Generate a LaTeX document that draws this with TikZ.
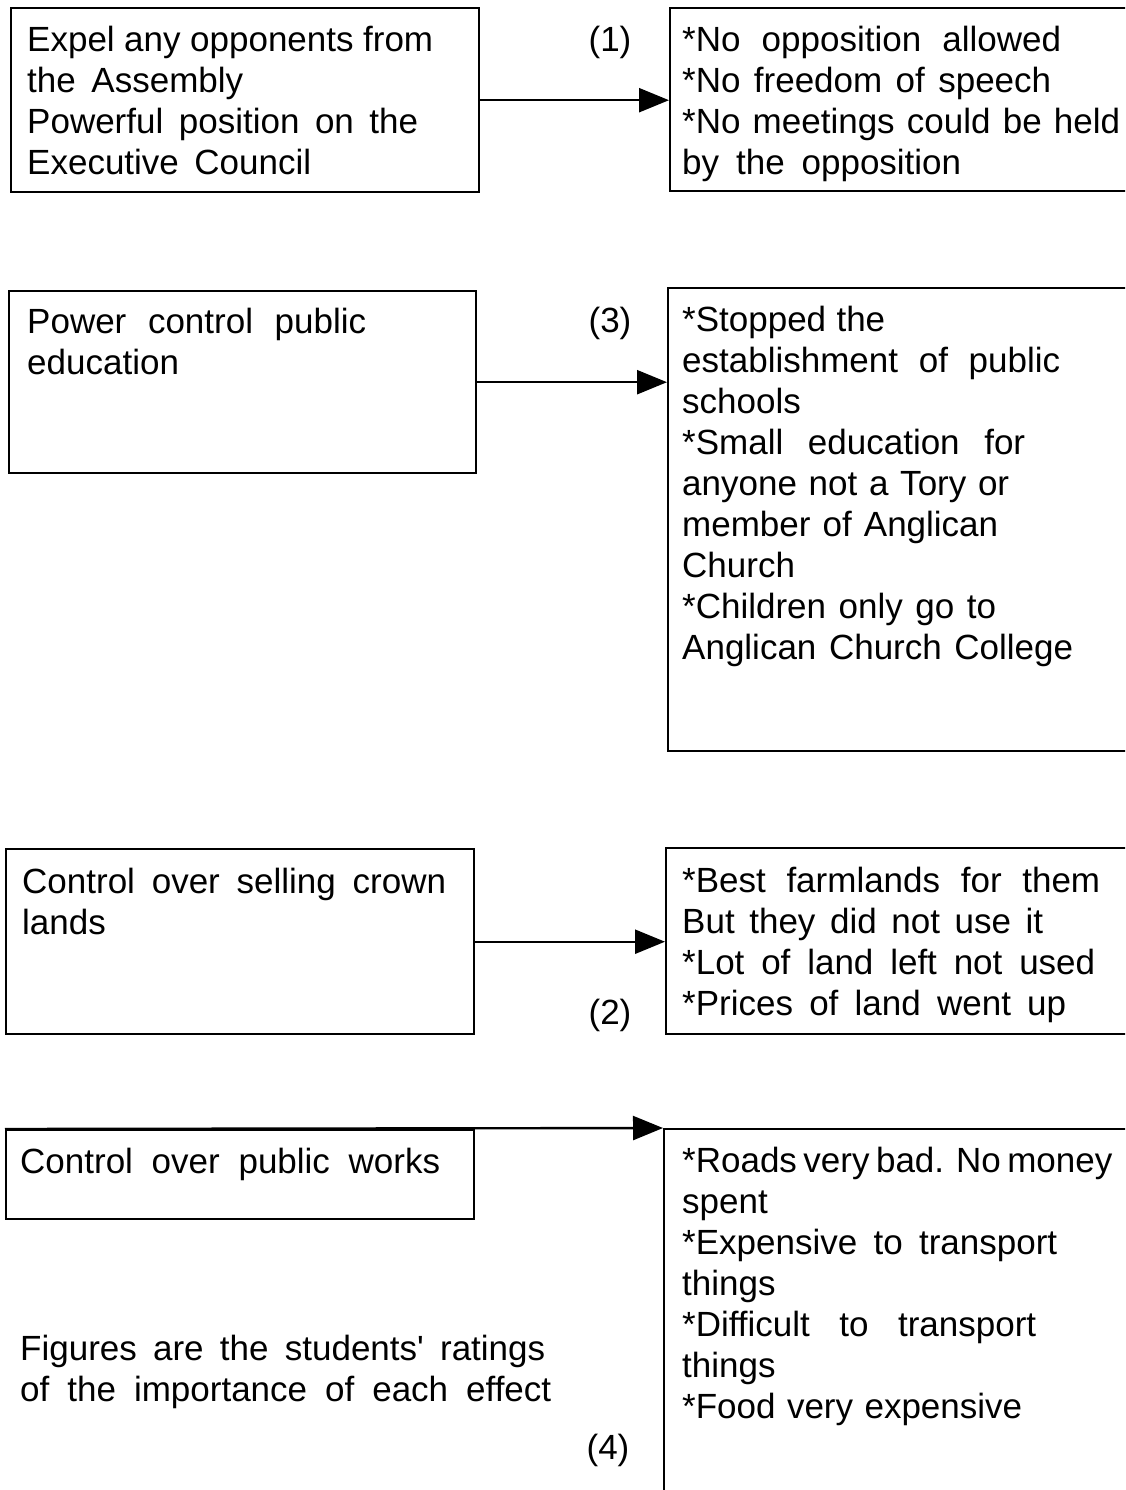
\documentclass[tikz,border=0pt]{standalone}
\usepackage{fontspec}
\setmainfont{Liberation Sans}
\usetikzlibrary{arrows.meta}
\newcommand\fitline[2]{\makebox[#1pt][s]{#2}}
\begin{document}
\begin{tikzpicture}[x=1pt,y=-1pt,
  box/.style={draw, line width=2.4pt, inner sep=0pt, anchor=north west},
  txt/.style={anchor=base west, inner sep=0pt, font=\fontsize{35}{41}\selectfont},
  lbl/.style={anchor=base, inner sep=0pt, font=\fontsize{35}{41}\selectfont},
  conn/.style={line width=2.4pt, -{Triangle[length=30pt,width=24pt]}}]
\useasboundingbox (0,0) rectangle (1125,1490);
\clip (0,0) rectangle (1125,1490);
% boxes
\node[box, minimum width=468pt, minimum height=184pt] (L1) at (10,7) {};
\node[box, minimum width=480pt, minimum height=183pt] (R1) at (669,7) {};
\node[box, minimum width=467pt, minimum height=182pt] (L2) at (8,290) {};
\node[box, minimum width=480pt, minimum height=463pt] (R2) at (667,287) {};
\node[box, minimum width=468pt, minimum height=185pt] (L3) at (5,848) {};
\node[box, minimum width=480pt, minimum height=186pt] (R3) at (665,847) {};
\node[box, minimum width=468pt, minimum height=89pt] (L4) at (5,1129) {};
\node[box, minimum width=480pt, minimum height=400pt] (R4) at (663,1128) {};
% texts
\node[txt] (t1) at (27,52) {\begin{tabular}[t]{@{}l@{}}\fitline{406}{Expel any opponents from}\\\fitline{216}{the Assembly}\\\fitline{391}{Powerful position on the}\\\fitline{284}{Executive Council}\end{tabular}};
\node[txt] (u1) at (682,52) {\begin{tabular}[t]{@{}l@{}}\fitline{379}{*No opposition allowed}\\\fitline{369}{*No freedom of speech}\\\fitline{438}{*No meetings could be held}\\\fitline{279}{by the opposition}\end{tabular}};
\node[txt] (t2) at (27,333) {\begin{tabular}[t]{@{}l@{}}\fitline{339}{Power control public}\\education\end{tabular}};
\node[txt] (u2) at (682,331) {\begin{tabular}[t]{@{}l@{}}\fitline{203}{*Stopped the}\\\fitline{378}{establishment of public}\\schools\\\fitline{343}{*Small education for}\\\fitline{327}{anyone not a Tory or}\\\fitline{316}{member of Anglican}\\Church\\\fitline{314}{*Children only go to}\\\fitline{391}{Anglican Church College}\end{tabular}};
\node[txt] (t3) at (22,893) {\begin{tabular}[t]{@{}l@{}}\fitline{424}{Control over selling crown}\\lands\end{tabular}};
\node[txt] (u3) at (682,892) {\begin{tabular}[t]{@{}l@{}}\fitline{418}{*Best farmlands for them}\\\fitline{361}{But they did not use it}\\\fitline{413}{*Lot of land left not used}\\\fitline{384}{*Prices of land went up}\end{tabular}};
\node[txt] (t4) at (20,1173) {\fitline{420}{Control over public works}};
\node[txt] (u4) at (682,1172) {\begin{tabular}[t]{@{}l@{}}\fitline{425}{*Roads very bad. No money}\\spent\\\fitline{375}{*Expensive to transport}\\things\\\fitline{354}{*Difficult to transport}\\things\\\fitline{340}{*Food very expensive}\end{tabular}};
\node[txt] (note) at (20,1360) {\begin{tabular}[t]{@{}l@{}}\fitline{525}{Figures are the students\textquotesingle\ ratings}\\\fitline{531}{of the importance of each effect}\end{tabular}};
% ratings
\node[lbl] (r1) at (610,52) {(1)};
\node[lbl] (r3) at (610,332) {(3)};
\node[lbl] (r2) at (610,1024) {(2)};
\node[lbl] (r4) at (608,1459) {(4)};
% connectors
\draw[conn] (L1.east) -- (L1.east -| R1.west);
\draw[conn] (L2.east) -- (L2.east -| R2.west);
\draw[conn] (L3.east) -- (L3.east -| R3.west);
\draw[conn] (L4.north west) -- (R4.north west);
\end{tikzpicture}
\end{document}
